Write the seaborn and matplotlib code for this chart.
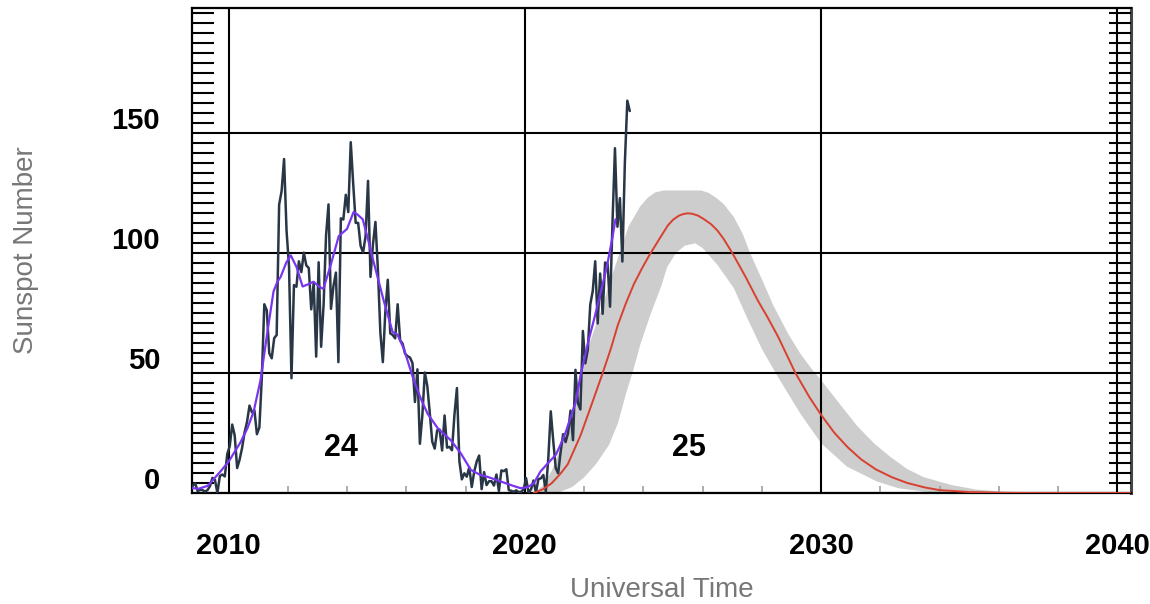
import numpy as np
import pandas as pd
import matplotlib
matplotlib.use("Agg")
import matplotlib.pyplot as plt
from matplotlib.ticker import MultipleLocator, FixedLocator
from matplotlib.transforms import ScaledTranslation
import seaborn as sns

# ---------------- data ----------------
# monthly mean sunspot number, Oct 2008 .. Jul 2023
ssn_start_year = 2008
ssn_start_month = 10
ssn_monthly = [
    2.9, 4.1, 0.8,
    1.3, 1.2, 0.6, 1.2, 2.9, 6.3, 5.5, 0.0, 7.1, 7.7, 6.9, 16.3,
    19.5, 28.5, 24.0, 10.4, 13.9, 18.8, 25.2, 29.6, 36.4, 33.6, 34.4, 24.5,
    27.3, 48.3, 78.6, 76.1, 58.2, 56.1, 64.5, 65.8, 120.1, 125.7, 139.1, 109.3,
    94.4, 47.8, 86.6, 85.9, 96.5, 92.0, 100.1, 94.8, 93.7, 76.5, 87.6, 56.8,
    96.1, 60.9, 78.3, 107.3, 120.2, 76.7, 86.2, 91.8, 54.5, 114.4, 113.9, 124.2,
    117.0, 146.1, 128.7, 112.5, 112.5, 102.9, 100.2, 106.9, 130.0, 90.0, 103.6, 112.9,
    93.0, 66.7, 54.5, 75.3, 88.8, 66.5, 65.8, 64.4, 78.6, 63.6, 62.2, 58.0,
    57.0, 56.4, 54.1, 37.9, 51.5, 20.5, 32.4, 50.2, 44.6, 33.4, 21.4, 18.5,
    26.1, 26.4, 17.7, 32.3, 18.9, 19.2, 17.8, 32.6, 43.7, 13.2, 5.7, 8.2,
    6.8, 10.7, 2.5, 8.9, 13.1, 15.6, 1.6, 8.7, 3.3, 4.9, 4.9, 3.1,
    7.7, 0.8, 9.4, 9.1, 9.9, 1.2, 0.9, 0.5, 1.1, 0.4, 0.5, 1.5,
    6.2, 0.2, 1.5, 5.2, 0.2, 5.8, 6.1, 7.5, 0.6, 14.4, 34.0, 21.8,
    10.4, 8.2, 17.2, 24.5, 21.2, 25.0, 34.3, 22.0, 51.3, 37.4, 34.8, 67.5,
    54.0, 59.7, 78.5, 84.1, 96.5, 70.6, 91.4, 74.6, 96.0, 95.5, 77.6, 112.8,
    143.6, 110.9, 122.8, 96.4, 137.4, 163.4, 159.1,
]

# smoothed sunspot number
smooth_t = [2008.78, 2009.0, 2009.3, 2009.73, 2010.0, 2010.4, 2010.64, 2010.85,
            2011.08, 2011.3, 2011.52, 2011.65, 2011.76, 2011.95, 2012.1, 2012.3,
            2012.5, 2012.7, 2012.87, 2013.05, 2013.2, 2013.45, 2013.72, 2014.0,
            2014.22, 2014.35, 2014.53, 2014.7, 2014.86, 2015.05, 2015.24, 2015.54,
            2015.7, 2015.92, 2016.25, 2016.5, 2016.72, 2017.06, 2017.5, 2017.84,
            2018.18, 2018.5, 2018.75, 2019.3, 2019.6, 2019.86, 2020.1, 2020.3,
            2020.53, 2020.75, 2021.05, 2021.2, 2021.37, 2021.72, 2021.88, 2022.16,
            2022.33, 2022.55, 2022.78, 2022.95, 2023.06]
smooth_v = [2.0, 1.8, 3.0, 9.0, 13.0, 21.0, 27.0, 34.0,
            47.0, 66.0, 84.0, 88.0, 90.0, 96.0, 99.0, 94.0,
            86.0, 87.0, 88.0, 86.0, 85.0, 95.0, 107.0, 110.0,
            117.0, 116.0, 114.0, 106.0, 98.0, 89.0, 80.0, 67.0,
            66.0, 60.0, 47.0, 39.0, 33.0, 27.0, 22.0, 16.5,
            9.6, 7.5, 6.7, 4.3, 3.0, 2.0, 2.5, 4.0,
            9.0, 12.0, 16.0, 20.0, 25.0, 38.0, 49.0, 64.0,
            72.0, 83.0, 95.0, 106.0, 114.0]

# predicted cycle 25
pred_t = [2020.3, 2020.6, 2020.9, 2021.2, 2021.45, 2021.88, 2022.2, 2022.6,
          2022.9, 2023.14, 2023.41, 2023.68, 2023.95, 2024.2, 2024.4, 2024.6,
          2024.83, 2025.0, 2025.2, 2025.35, 2025.5, 2025.65, 2025.85, 2026.05,
          2026.28, 2026.5, 2026.7, 2027.0, 2027.45, 2027.87, 2028.2, 2028.55,
          2029.13, 2029.6, 2030.0, 2030.45, 2030.9, 2031.35, 2031.85, 2032.4,
          2032.9, 2033.5, 2034.0, 2035.0, 2036.0, 2037.0, 2040.45]
pred_v = [0.0, 1.5, 4.0, 8.0, 12.0, 24.0, 35.0, 49.0,
          60.0, 70.0, 79.0, 87.0, 93.5, 99.0, 103.0, 107.0,
          111.5, 113.8, 115.5, 116.2, 116.5, 116.3, 115.5, 114.0,
          112.0, 109.3, 106.0, 100.0, 90.0, 80.0, 73.0, 65.0,
          50.0, 40.0, 32.5, 25.0, 19.0, 14.0, 9.8, 6.5,
          4.2, 2.3, 1.2, 0.4, 0.1, 0.0, 0.0]

# prediction range
upper_t = [2020.3, 2020.6, 2020.9, 2021.32, 2021.6, 2021.88, 2022.2, 2022.57,
           2022.9, 2023.2, 2023.5, 2023.9, 2024.15, 2024.4, 2024.7, 2025.95,
           2026.2, 2026.45, 2026.7, 2027.05, 2027.35, 2027.6, 2028.0, 2028.39,
           2028.9, 2029.3, 2029.69, 2030.0, 2030.6, 2031.21, 2031.8, 2032.34,
           2032.9, 2033.46, 2034.4, 2035.2, 2036.0, 2037.0]
upper_v = [0.0, 3.0, 9.0, 22.0, 35.0, 50.0, 63.0, 76.0,
           89.0, 100.0, 111.0, 119.5, 123.0, 125.2, 126.0, 126.0,
           125.0, 123.0, 120.5, 115.0, 108.0, 100.0, 89.0, 78.0,
           66.0, 58.0, 51.5, 47.0, 37.5, 28.0, 20.5, 15.0,
           10.0, 6.6, 3.3, 1.5, 0.6, 0.1]
lower_t = [2020.3, 2021.1, 2021.6, 2022.0, 2022.4, 2022.84, 2023.14, 2023.43,
           2023.68, 2023.9, 2024.26, 2024.6, 2024.8, 2025.1, 2025.4, 2025.75,
           2026.0, 2026.5, 2027.05, 2027.5, 2028.0, 2028.51, 2029.3, 2030.0,
           2030.87, 2031.88, 2032.6, 2033.46, 2034.0, 2037.0]
lower_v = [0.0, 0.0, 2.5, 6.5, 12.0, 20.0, 29.0, 42.0,
           52.0, 62.0, 75.0, 86.0, 94.0, 100.0, 103.0, 104.0,
           102.0, 95.0, 85.4, 73.0, 60.0, 49.0, 33.0, 20.7,
           11.0, 4.8, 2.0, 0.6, 0.0, 0.0]

x_ticks = [2010, 2020, 2030, 2040]
y_ticks = [0, 50, 100, 150]
cycle_labels = ["24", "25"]
cycle_label_t = [2013.8, 2025.54]
cycle_label_v = [18.8, 18.8]

# ---------------- style ----------------
sns.set_style("white")
plt.rcParams["font.family"] = ["Liberation Sans", "DejaVu Sans"]

fig = plt.figure(figsize=(11.5, 6.04), dpi=100)
ax = fig.add_axes([192 / 1150, (604 - 493) / 604, (1131 - 192) / 1150, (493 - 8) / 604])

# band
band_x = np.concatenate([upper_t, lower_t[::-1]])
band_y = np.concatenate([upper_v, lower_v[::-1]])
ax.fill(band_x, band_y, color="#cdcdcd", lw=0, zorder=1)

# monthly data
n = len(ssn_monthly)
months = ssn_start_month - 1 + np.arange(n)
t_monthly = ssn_start_year + (months + 0.5) / 12.0
df = pd.DataFrame({"t": t_monthly, "ssn": ssn_monthly})
sns.lineplot(data=df, x="t", y="ssn", ax=ax, color="#283646", lw=1.8, zorder=3)

sns.lineplot(x=pred_t, y=pred_v, ax=ax, color="#d8402f", lw=1.4, zorder=3)
sns.lineplot(x=smooth_t, y=smooth_v, ax=ax, color="#7a35f0", lw=1.6, zorder=4)

for lab, tx, ty in zip(cycle_labels, cycle_label_t, cycle_label_v):
    ax.text(tx, ty, lab, ha="center", va="center", fontsize=22, fontweight="bold",
            color="black", zorder=6)

ax.set_xlim(2008.768, 2040.456)
ax.set_ylim(0, 202)

ax.xaxis.set_major_locator(FixedLocator(x_ticks))
ax.yaxis.set_major_locator(FixedLocator(y_ticks))
ax.set_xticklabels([str(v) for v in x_ticks])
ax.set_yticklabels([str(v) for v in y_ticks])
ax.xaxis.set_minor_locator(MultipleLocator(2))
ax.yaxis.set_minor_locator(MultipleLocator(50 / 12))

ax.set_axisbelow(False)
ax.grid(True, which="major", color="black", lw=1.5)

ax.tick_params(axis="both", which="major", length=0, labelsize=21, labelcolor="black")
ax.tick_params(axis="x", which="major", pad=28)
ax.tick_params(axis="y", which="major", pad=23)
ax.tick_params(axis="y", which="minor", direction="in", left=True, right=True,
               length=16, width=1.5, color="black")
ax.tick_params(axis="x", which="minor", direction="in", bottom=True, top=False,
               length=5, width=1.2, color="#a0a0a0")

for lbl in ax.get_xticklabels() + ax.get_yticklabels():
    lbl.set_fontweight("bold")
for lbl in ax.get_yticklabels():
    lbl.set_transform(lbl.get_transform() + ScaledTranslation(0, 0.15, fig.dpi_scale_trans))

for s in ax.spines.values():
    s.set_visible(True)
    s.set_color("black")
    s.set_linewidth(1.6)
ax.spines["right"].set_color("#444444")
ax.spines["right"].set_linewidth(2.2)

ax.set_xlabel("Universal Time", fontsize=20, color="#777777", labelpad=12)
ax.set_ylabel("Sunspot Number", fontsize=20, color="#777777", labelpad=52)

fig.savefig("out.png", dpi=100)
